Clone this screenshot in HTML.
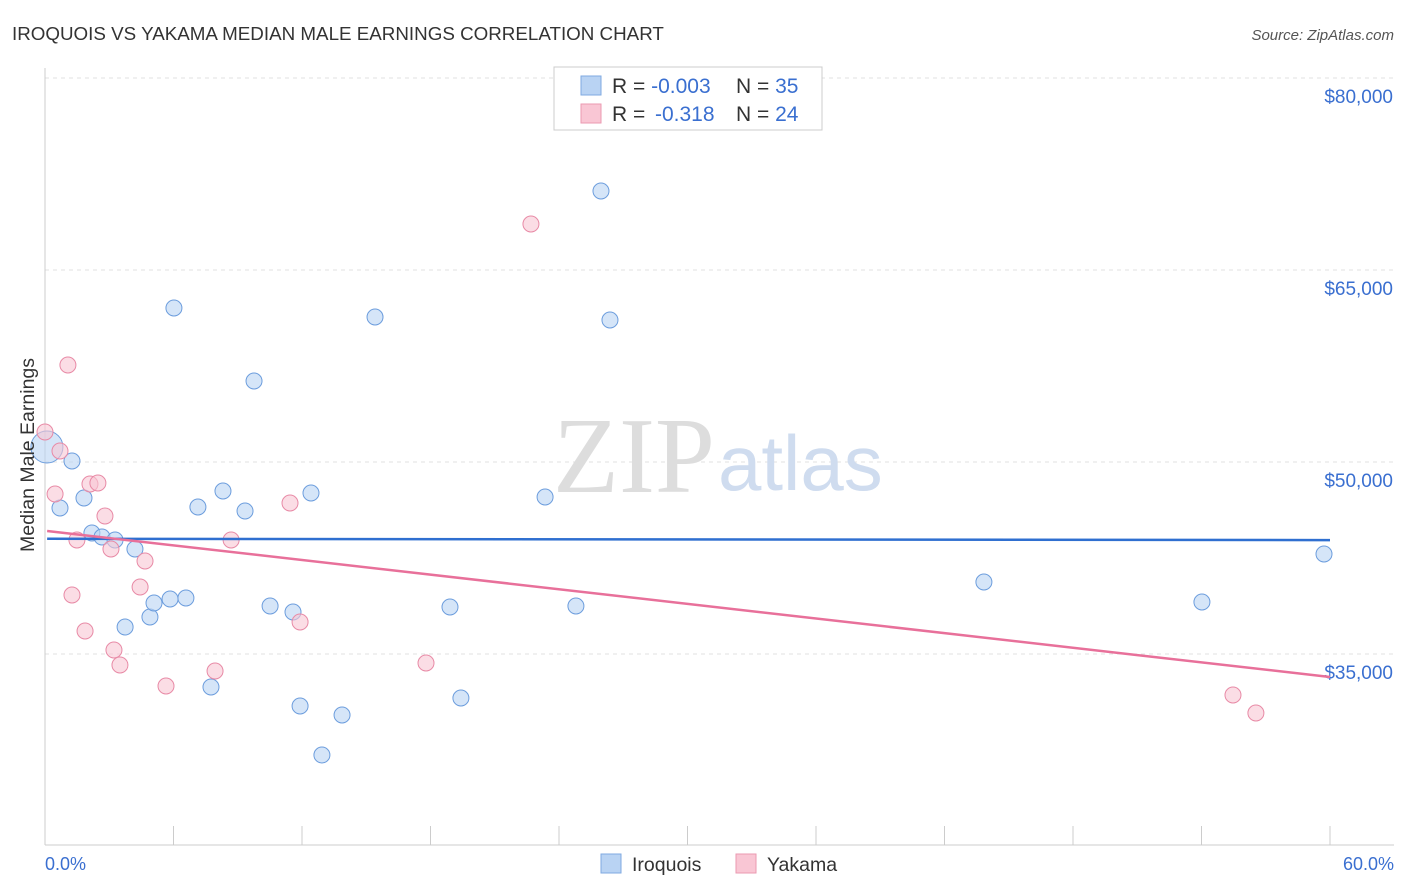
<!DOCTYPE html>
<html><head><meta charset="utf-8"><style>
body{margin:0;background:#fff;font-family:"Liberation Sans",sans-serif;}
svg{display:block}
</style></head><body>
<svg width="1406" height="892" xmlns="http://www.w3.org/2000/svg">
<text x="12" y="40" font-size="18.8" fill="#333">IROQUOIS VS YAKAMA MEDIAN MALE EARNINGS CORRELATION CHART</text>
<text x="1394" y="40" font-size="15" fill="#555" font-style="italic" text-anchor="end">Source: ZipAtlas.com</text>
<g id="grid"></g>
<g id="axes"></g>
<text x="553" y="492" font-size="108" fill="#ddd" font-family="Liberation Serif">ZIP</text>
<text x="718" y="490" font-size="78" fill="#cfdcef">atlas</text>
<g id="marks"></g>
<text transform="translate(34,455) rotate(-90)" font-size="19.5" fill="#333" text-anchor="middle">Median Male Earnings</text>
<text x="45" y="870" font-size="18" fill="#3a6fd0">0.0%</text>
<text x="1394" y="870" font-size="18" fill="#3a6fd0" text-anchor="end">60.0%</text>
<g>
<rect x="554" y="67" width="268" height="63" fill="#fff" stroke="#ccc"/>
<rect x="581" y="76" width="20" height="19" fill="#b9d3f3" stroke="#7fa9e0"/>
<rect x="581" y="104" width="20" height="19" fill="#f9c6d4" stroke="#eb9ab1"/>
<text x="612" y="93" font-size="21" fill="#333">R = <tspan fill="#3a6fd0">-0.003</tspan><tspan x="736">N = </tspan><tspan fill="#3a6fd0">35</tspan></text>
<text x="612" y="121" font-size="21" fill="#333">R = <tspan fill="#3a6fd0" x="655">-0.318</tspan><tspan x="736">N = </tspan><tspan fill="#3a6fd0">24</tspan></text>
</g>
<g>
<rect x="601" y="854" width="20" height="19" fill="#b9d3f3" stroke="#7fa9e0"/>
<text x="632" y="871" font-size="19.5" fill="#333">Iroquois</text>
<rect x="736" y="854" width="20" height="19" fill="#f9c6d4" stroke="#eb9ab1"/>
<text x="767" y="871" font-size="19.5" fill="#333">Yakama</text>
</g>
</svg>
<script>
const yTicks=[80000,65000,50000,35000];
const yTickLabels=["$80,000","$65,000","$50,000","$35,000"];
const xTicks=[0,6,12,18,24,30,36,42,48,54,60];
const iroquoisX=[0.09,0.70,1.26,1.82,2.19,2.66,3.27,3.74,4.20,4.90,5.09,5.84,6.02,6.58,7.14,7.75,8.31,9.34,9.76,10.51,11.58,11.91,12.42,12.93,13.87,15.41,18.91,19.42,23.35,24.79,25.96,26.38,43.84,54.02,59.72];
const iroquoisY=[51172,46406,50078,47188,44453,44141,43906,37109,43203,37891,38984,39297,62031,39375,46484,32422,47734,46172,56328,38750,38281,30938,47578,27109,30234,61328,38672,31563,47266,38750,71172,61094,40625,39063,42813];
const yakamaX=[0,0.47,0.70,1.07,1.26,1.49,1.87,2.10,2.47,2.80,3.08,3.22,3.50,4.44,4.67,5.65,7.94,8.69,11.44,11.91,17.79,22.69,55.47,56.54];
const yakamaY=[52344,47500,50859,57578,39609,43906,36797,48281,48359,45781,43203,35313,34141,40234,42266,32500,33672,43906,46797,37500,34297,68594,31797,30391];
const iroquoisTrend=[44000,43900];
const yakamaTrend=[44609,33203];
const X=v=>45+v/60*1285, Y=v=>78+(80000-v)/15000*192;
const NS="http://www.w3.org/2000/svg";
function mk(p,t,a){const e=document.createElementNS(NS,t);for(const k in a)e.setAttribute(k,a[k]);p.appendChild(e);return e;}
const grid=document.getElementById('grid'),axes=document.getElementById('axes'),marks=document.getElementById('marks');
yTicks.forEach((v,i)=>{
 const l=mk(grid,'line',{x1:45,x2:1394,y1:Y(v),y2:Y(v),stroke:'#e2e2e2','stroke-dasharray':'4,4'});
 
 
 const t=mk(grid,'text',{x:1393,y:Y(v)+25,'font-size':19,fill:'#3a6fd0','text-anchor':'end'});
 t.textContent=yTickLabels[i];
 
 
});
const ya=mk(axes,'line',{x1:45,x2:45,y1:68,y2:845,stroke:'#ccc'});


const xa=mk(axes,'line',{x1:45,x2:1394,y1:845,y2:845,stroke:'#ccc'});


xTicks.forEach(v=>{const t=mk(axes,'line',{x1:X(v),x2:X(v),y1:826,y2:845,stroke:'#ccc'});
 
 });
function dots(xs,ys,fill,stroke,name){xs.forEach((x,i)=>{const c=mk(marks,'circle',{cx:X(x),cy:Y(ys[i]),r:i==0&&name=='iroquois-point'?16:8,fill:fill,stroke:stroke,'stroke-width':1,'fill-opacity':0.6});
 
 });}
dots(iroquoisX,iroquoisY,'#b9d3f3','#6c9ddd','iroquois-point');
dots(yakamaX,yakamaY,'#f9c6d4','#e88aa6','yakama-point');
const bt=mk(marks,'line',{x1:X(0.1),x2:X(60),y1:Y(iroquoisTrend[0]),y2:Y(iroquoisTrend[1]),stroke:'#2f6fd0','stroke-width':2.5});


const pt=mk(marks,'line',{x1:X(0.1),x2:X(60),y1:Y(yakamaTrend[0]),y2:Y(yakamaTrend[1]),stroke:'#e8709a','stroke-width':2.5});


</script>
</body></html>
